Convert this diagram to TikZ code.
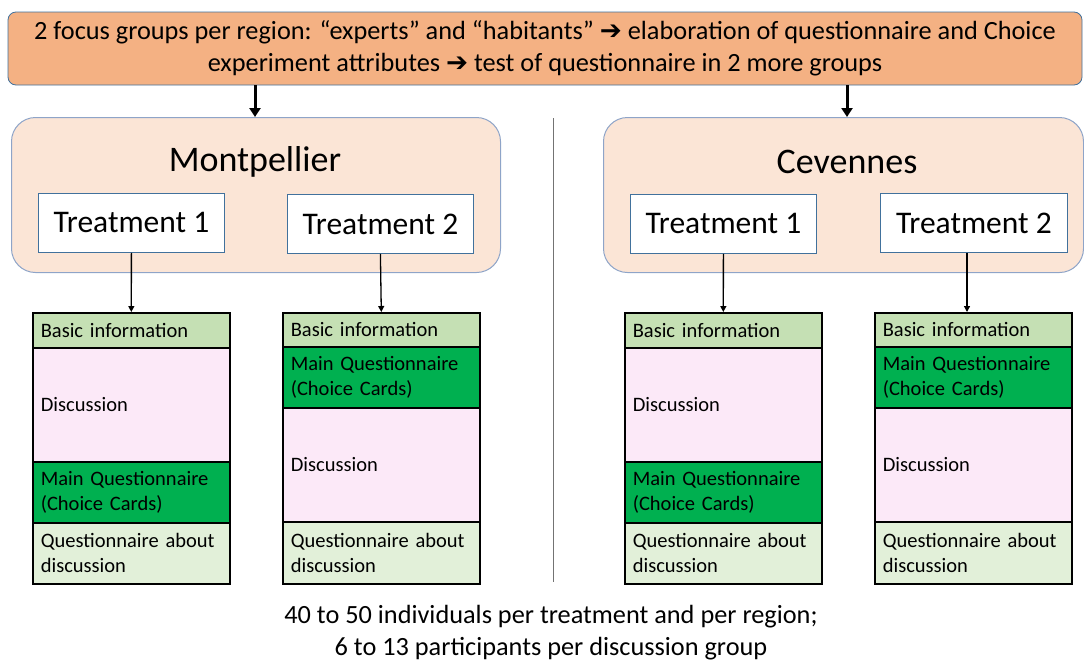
\documentclass[tikz,border=0pt]{standalone}
\usepackage{fontspec}
\setmainfont{Carlito}
\newfontfamily\dejavu{DejaVu Sans}
\usetikzlibrary{arrows.meta}
\definecolor{topfill}{HTML}{F4B183}
\definecolor{regfill}{HTML}{FBE5D6}
\definecolor{regdraw}{HTML}{8EA4C8}
\definecolor{trdraw}{HTML}{41719C}
\definecolor{basicfill}{HTML}{C5E0B4}
\definecolor{discfill}{HTML}{FCE9F8}
\definecolor{mainfill}{HTML}{00B050}
\definecolor{qfill}{HTML}{E2F0D9}
\newcommand{\myarr}{{\dejavu\bfseries ➔}}
\tikzset{
  topbox/.style={draw=trdraw, line width=0.8pt, fill=topfill, rounded corners=8pt,
    minimum width=1074pt, minimum height=73pt, align=center, inner sep=0pt,
    font=\fontsize{26.3}{32}\selectfont},
  regbox/.style={draw=regdraw, line width=1pt, fill=regfill, rounded corners=24pt,
    minimum height=155pt, anchor=north west, inner sep=0pt},
  reglabel/.style={font=\fontsize{36}{40}\selectfont, inner sep=0pt},
  trbox/.style={draw=trdraw, line width=0.8pt, fill=white, minimum width=186pt,
    minimum height=59pt, anchor=north west, inner sep=0pt, font=\fontsize{31.5}{34}\selectfont},
  row/.style={draw=black, line width=1.6pt, anchor=north west, minimum width=197pt,
    text width=181pt, inner xsep=8pt, inner ysep=0pt, align=left,
    font=\fontsize{20.5}{25}\selectfont},
  basic/.style={row, fill=basicfill, minimum height=35pt},
  disc/.style={row, fill=discfill, minimum height=114pt},
  mainq/.style={row, fill=mainfill, minimum height=61pt},
  qab/.style={row, fill=qfill, minimum height=61pt},
  bigarrow/.style={-{Triangle[length=9pt,width=11pt]}, line width=3pt},
  smallarrow/.style={-{Triangle[length=6pt,width=6pt]}, line width=1.3pt},
}
\begin{document}
\begin{tikzpicture}[x=1pt,y=-1pt]
\useasboundingbox (0,0) rectangle (1084,662);
\node[topbox] (top) at (545,48.5) {2 focus groups per region: “experts” and “habitants” \myarr{} elaboration of questionnaire and Choice\\experiment attributes \myarr{} test of questionnaire in 2 more groups};

\node[regbox, minimum width=489pt] (mont) at (11,117) {};
\node[regbox, minimum width=480pt] (cev) at (603,117) {};
\node[reglabel] (montl) at (255,162) {Montpellier};
\node[reglabel] (cevl) at (847,162) {Cevennes};

\draw[bigarrow] (top.south -| montl) -- (mont.north -| montl);
\draw[bigarrow] (top.south -| cevl) -- (cev.north -| cevl);

\draw[color=black!55, line width=1pt] (553,118) coordinate (d1) -- (553,582) coordinate (d2);

\node[trbox] (mt1) at (38,193) {Treatment 1};
\node[trbox] (mt2) at (287,194) {Treatment 2};
\node[trbox] (ct1) at (630,194) {Treatment 1};
\node[trbox, minimum width=187pt] (ct2) at (880,193) {Treatment 2};

% Montpellier T1 stack
\node[basic] (a1) at (32,312) {Basic information};
\node[disc] (a2) at (32,347) {Discussion};
\node[mainq] (a3) at (32,461) {Main Questionnaire\\(Choice Cards)};
\node[qab] (a4) at (32,522) {Questionnaire about\\discussion};
% Montpellier T2 stack
\node[basic, minimum height=34pt] (b1) at (282,312) {Basic information};
\node[mainq] (b2) at (282,346) {Main Questionnaire\\(Choice Cards)};
\node[disc] (b3) at (282,407) {Discussion};
\node[qab, minimum height=62pt] (b4) at (282,521) {Questionnaire about\\discussion};
% Cevennes T1 stack
\node[basic] (c1) at (624,312) {Basic information};
\node[disc] (c2) at (624,347) {Discussion};
\node[mainq] (c3) at (624,461) {Main Questionnaire\\(Choice Cards)};
\node[qab] (c4) at (624,522) {Questionnaire about\\discussion};
% Cevennes T2 stack
\node[basic, minimum height=34pt] (e1) at (874,312) {Basic information};
\node[mainq] (e2) at (874,346) {Main Questionnaire\\(Choice Cards)};
\node[disc] (e3) at (874,407) {Discussion};
\node[qab, minimum height=62pt] (e4) at (874,521) {Questionnaire about\\discussion};

\draw[smallarrow] (mt1.south) -- (a1.north);
\draw[smallarrow] (mt2.south) -- (b1.north);
\draw[smallarrow] (ct1.south) -- (c1.north);
\coordinate (k) at (967,0);
\draw[smallarrow] (ct2.south -| k) -- (e1.north -| k);

\node[align=center, font=\fontsize{26.3}{32}\selectfont, inner sep=0pt] (bottom) at (551,633) {40 to 50 individuals per treatment and per region;\\6 to 13 participants per discussion group};
\end{tikzpicture}
\end{document}
